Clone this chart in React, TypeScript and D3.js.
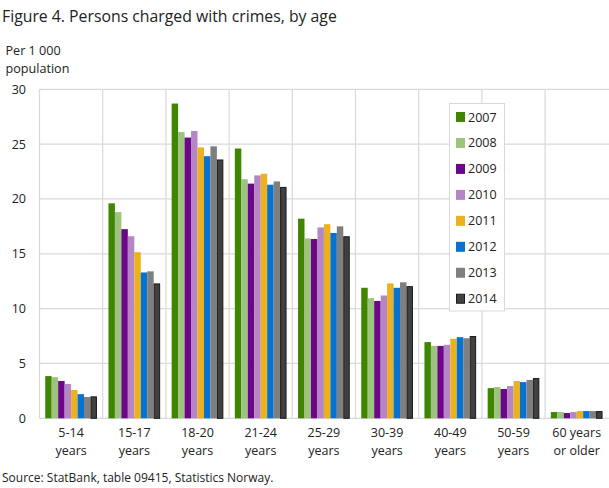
import React from "react";
import * as d3 from "d3";

const categories = [
    "5-14|years", "15-17|years", "18-20|years", "21-24|years", "25-29|years",
    "30-39|years", "40-49|years", "50-59|years", "60 years|or older",
];
const years = ["2007", "2008", "2009", "2010", "2011", "2012", "2013", "2014"];
const colors = ["#3f8600", "#9dc37f", "#6a0888", "#b585c5", "#ecb11f", "#0673d1", "#7f7f7f", "#404040"];

// one array per year, values per age group
const v2007 = [3.85, 19.6, 28.7, 24.6, 18.2, 11.9, 6.95, 2.75, 0.57];
const v2008 = [3.75, 18.8, 26.1, 21.8, 16.4, 10.95, 6.6, 2.85, 0.57];
const v2009 = [3.4, 17.25, 25.6, 21.4, 16.35, 10.7, 6.6, 2.67, 0.48];
const v2010 = [3.13, 16.6, 26.2, 22.15, 17.4, 11.2, 6.7, 2.94, 0.57];
const v2011 = [2.58, 15.15, 24.7, 22.3, 17.7, 12.3, 7.25, 3.4, 0.66];
const v2012 = [2.2, 13.3, 23.9, 21.3, 16.9, 11.9, 7.4, 3.3, 0.66];
const v2013 = [1.94, 13.4, 24.8, 21.6, 17.5, 12.4, 7.3, 3.5, 0.66];
const v2014 = [2.0, 12.3, 23.6, 21.1, 16.6, 12.05, 7.5, 3.67, 0.66];
const series = [v2007, v2008, v2009, v2010, v2011, v2012, v2013, v2014];

const yTicks = [0, 5, 10, 15, 20, 25, 30];

const font = "'Open Sans', sans-serif";
const textColor = "#222";
const gridColor = "#d9d9d9";

export default function App() {
    const width = 609;
    const height = 488;
    const margin = { top: 89.3, right: 0, bottom: 69.7, left: 39.5 };

    const x0 = d3.scaleBand<string>(categories, [margin.left, 608.3]);
    const x1 = d3.scaleBand<string>(years, [0, x0.bandwidth()]).paddingInner(0).paddingOuter(0.89);
    const y = d3.scaleLinear([0, 30], [height - margin.bottom, margin.top]);

    return <div>
        <style>{`body{margin:0}`}</style>
        <svg width={width} height={height} style={{ display: "block", fontFamily: font }}>
            <rect x={0} y={0} width={width} height={height} fill="white" />
            <text x={2} y={22} fontSize={15.8} fill={textColor}>Figure 4. Persons charged with crimes, by age</text>
            <text x={5.5} y={54.5} fontSize={12.6} fill={textColor}>Per 1 000</text>
            <text x={5.5} y={72.5} fontSize={12.6} fill={textColor}>population</text>

            {/* Grid */}
            <g>
                {yTicks.map((t) => (
                    <g key={t}>
                        <line x1={margin.left} x2={width} y1={y(t)} y2={y(t)} stroke={gridColor} strokeWidth={1.2} />
                        <text x={26} y={y(t)} dominantBaseline="central" textAnchor="end" fontSize={12.5} fill={textColor}>{t}</text>
                    </g>
                ))}
                {categories.map((c) => (
                    <line key={c} x1={x0(c)!} x2={x0(c)!} y1={y(30)} y2={y(0)} stroke={gridColor} strokeWidth={1.2} />
                ))}
            </g>

            {/* Bars */}
            <g>
                {series.map((vals, si) => (
                    <g key={years[si]}>
                        {vals.map((v, ci) => {
                            const bx = x0(categories[ci])! + x1(years[si])!;
                            const last = si === series.length - 1;
                            return <rect key={ci}
                                x={last ? bx + 0.5 : bx}
                                y={last ? y(v) + 0.5 : y(v)}
                                width={last ? x1.bandwidth() - 1 : x1.bandwidth()}
                                height={last ? y(0) - y(v) - 0.5 : y(0) - y(v)}
                                fill={colors[si]}
                                stroke={last ? "#1a1a1a" : "none"}
                                strokeWidth={1} />;
                        })}
                    </g>
                ))}
            </g>

            {/* X labels */}
            <g>
                {categories.map((c) => {
                    const [l1, l2] = c.split("|");
                    const cx = x0(c)! + x0.bandwidth() / 2;
                    return <g key={c}>
                        <text x={cx} y={437} textAnchor="middle" fontSize={12.5} fill={textColor}>{l1}</text>
                        <text x={cx} y={454.5} textAnchor="middle" fontSize={12.5} fill={textColor}>{l2}</text>
                    </g>;
                })}
            </g>

            {/* Legend */}
            <g>
                <rect x={449.5} y={103.5} width={55} height={207.5} fill="white" stroke={gridColor} strokeWidth={1} />
                {years.map((yr, i) => {
                    const cy = 117 + i * 25.96;
                    const last = i === years.length - 1;
                    return <g key={yr}>
                        <rect x={last ? 456.5 : 456} y={last ? cy - 4.5 : cy - 5} width={last ? 8 : 9} height={last ? 9 : 10}
                            fill={colors[i]} stroke={last ? "#1a1a1a" : "none"} />
                        <text x={468} y={cy} dominantBaseline="central" fontSize={12.5} fill={textColor}>{yr}</text>
                    </g>;
                })}
            </g>

            <text x={2} y={482} fontSize={12} fill={textColor}>Source: StatBank, table 09415, Statistics Norway.</text>
        </svg>
    </div>;
}
